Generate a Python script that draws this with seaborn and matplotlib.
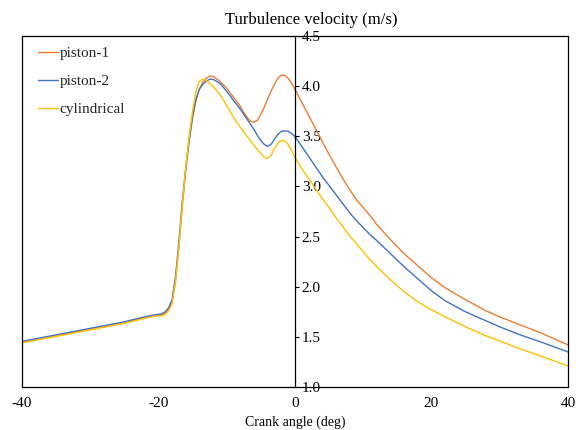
import pandas as pd
import numpy as np
import seaborn as sns
import matplotlib.pyplot as plt

# crank angle (deg)
crank = [-40, -35, -30, -25, -22, -21, -20, -19.5, -19, -18.5, -18, -17.5, -17, -16.5,
         -16, -15.5, -15, -14.5, -14, -13.5, -13, -12.5, -12, -11, -10, -9, -8, -7.5,
         -7, -6.5, -6, -5.5, -5, -4.5, -4, -3.5, -3, -2.5, -2, -1.5, -1, -0.5, 0,
         1, 2, 3, 4, 5, 6, 7, 8, 9, 10, 11, 12, 14, 16, 18, 20, 22, 25, 28, 30, 33, 36, 40]

piston_1 = [1.445, 1.51, 1.575, 1.64, 1.69, 1.705, 1.715, 1.72, 1.74, 1.78, 1.85, 2.05, 2.40, 2.80,
            3.15, 3.45, 3.68, 3.86, 3.97, 4.04, 4.08, 4.10, 4.10, 4.05, 3.98, 3.89, 3.80, 3.74,
            3.69, 3.65, 3.64, 3.66, 3.72, 3.79, 3.87, 3.95, 4.02, 4.08, 4.11, 4.11, 4.08, 4.03, 3.97,
            3.84, 3.71, 3.58, 3.45, 3.32, 3.20, 3.08, 2.97, 2.87, 2.79, 2.71, 2.62, 2.47, 2.33,
            2.21, 2.09, 1.99, 1.87, 1.76, 1.70, 1.62, 1.54, 1.42]

piston_2 = [1.455, 1.52, 1.585, 1.65, 1.70, 1.715, 1.725, 1.73, 1.75, 1.79, 1.87, 2.10, 2.45, 2.85,
            3.18, 3.47, 3.70, 3.87, 3.97, 4.02, 4.05, 4.07, 4.07, 4.03, 3.95, 3.86, 3.77, 3.72,
            3.67, 3.62, 3.57, 3.51, 3.46, 3.42, 3.40, 3.42, 3.47, 3.52, 3.55, 3.555, 3.55, 3.53, 3.50,
            3.40, 3.30, 3.20, 3.10, 3.01, 2.92, 2.83, 2.74, 2.66, 2.59, 2.52, 2.46, 2.33, 2.20,
            2.08, 1.96, 1.86, 1.75, 1.66, 1.60, 1.52, 1.45, 1.35]

cylindrical = [1.44, 1.505, 1.57, 1.635, 1.685, 1.70, 1.71, 1.71, 1.725, 1.76, 1.83, 2.05, 2.40, 2.82,
               3.18, 3.50, 3.75, 3.95, 4.05, 4.07, 4.06, 4.03, 4.00, 3.92, 3.81, 3.69, 3.59, 3.545,
               3.50, 3.455, 3.41, 3.37, 3.33, 3.29, 3.28, 3.31, 3.38, 3.43, 3.46, 3.455, 3.42, 3.36, 3.29,
               3.18, 3.08, 2.98, 2.88, 2.79, 2.69, 2.60, 2.51, 2.43, 2.35, 2.27, 2.20, 2.07, 1.95,
               1.85, 1.77, 1.70, 1.60, 1.51, 1.46, 1.38, 1.31, 1.21]

series_names = ['piston-1', 'piston-2', 'cylindrical']
colors = ['#ED7D31', '#4472C4', '#FFC000']

df = pd.DataFrame({
    'crank': crank * 3,
    'velocity': piston_1 + piston_2 + cylindrical,
    'case': np.repeat(series_names, len(crank)),
})

sns.set_theme(style='white')
plt.rcParams['font.family'] = ['Liberation Serif', 'DejaVu Serif']

fig = plt.figure(figsize=(5.76, 4.30), dpi=100)
ax = fig.add_axes([0.038, 0.10, 0.948, 0.816])

sns.lineplot(data=df, x='crank', y='velocity', hue='case', palette=colors,
             hue_order=series_names, linewidth=1.0, ax=ax, sort=False)

ax.set_xlim(-40, 40)
ax.set_ylim(1.0, 4.5)
ax.set_xticks([-40, -20, 0, 20, 40])
ax.set_xticklabels(['-40', '-20', '0', '20', '40'])
ax.set_yticks([1.0, 1.5, 2.0, 2.5, 3.0, 3.5, 4.0, 4.5])

# y axis drawn through x = 0, labels on its right side
ax.yaxis.tick_right()
ax.spines['right'].set_position(('data', 0))
ax.axvline(40, color='black', lw=0.9, clip_on=False)
for s in ['left', 'top', 'bottom', 'right']:
    ax.spines[s].set_color('black')
    ax.spines[s].set_linewidth(0.9)

ax.tick_params(axis='y', direction='out', length=3, width=0.8, pad=2,
               labelsize=11, colors='black', right=True, left=False)
ax.tick_params(axis='x', length=0, pad=7, labelsize=11, colors='black')

ax.set_xlabel('Crank angle (deg)', fontsize=10, labelpad=4, color='black')
ax.set_ylabel('')
fig.text(0.54, 0.935, 'Turbulence velocity (m/s)', ha='center', va='bottom',
         fontsize=12, color='black')

ax.legend(loc='upper left', bbox_to_anchor=(0.005, 1.01), frameon=False,
          fontsize=11, handlelength=1.3, handletextpad=0.1, labelspacing=0.95,
          borderaxespad=0.5, title=None)

fig.savefig('out.png', dpi=100)
